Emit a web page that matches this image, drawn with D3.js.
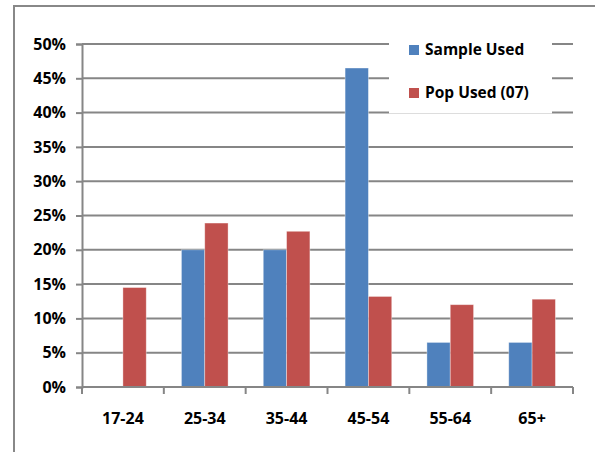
<!DOCTYPE html>
<html lang="en">
<head>
  <meta charset="UTF-8">
  <title>Sample vs population by age</title>
  <style type="text/css">
    body { margin: 0px; background: #fff; }
    text { font-family: "Open Sans", Lato, sans-serif; font-weight: bold; fill: #000; }
    .axis text { font-size: 16px; }
    .axis .domain { stroke: #868686; stroke-width: 2; }
    .axis line { stroke: #868686; stroke-width: 2; }
    .legend text { font-size: 15.5px; }
  </style>
  <script src="https://d3js.org/d3.v7.min.js"></script>
</head>
<body>
  <svg width="595" height="452"></svg>
  <script>

  const ageGroups = ['17-24', '25-34', '35-44', '45-54', '55-64', '65+'];
  const sampleUsed = [0, 0.20, 0.20, 0.465, 0.065, 0.065];
  const popUsed = [0.145, 0.239, 0.227, 0.132, 0.12, 0.128];
  const seriesNames = ['Sample Used', 'Pop Used (07)'];
  const yTicks = [0, 0.05, 0.10, 0.15, 0.20, 0.25, 0.30, 0.35, 0.40, 0.45, 0.50];

  const colors = ['#4F81BD', '#C0504D'];
  const margin = { left: 82, right: 22, top: 44, bottom: 65 };

  const svg = d3.select('svg');
  const width = +svg.attr('width');
  const height = +svg.attr('height');
  const innerWidth = width - margin.left - margin.right;
  const innerHeight = height - margin.top - margin.bottom;

  // outer chart frame (only top and left edges show in the crop)
  svg.append('path')
    .attr('d', `M14,${height} L14,6 L${width},6`)
    .attr('fill', 'none')
    .attr('stroke', '#888')
    .attr('stroke-width', 2);

  const g = svg.append('g')
    .attr('transform', `translate(${margin.left},${margin.top})`);

  const x = d3.scaleBand().domain(ageGroups).range([0, innerWidth]).paddingInner(0.43).paddingOuter(0.215);
  const x1 = d3.scaleBand().domain([0, 1]).range([0, x.bandwidth()]);
  const y = d3.scaleLinear().domain([0, 0.5]).range([innerHeight, 0]);

  // gridlines
  g.append('g').selectAll('line').data(yTicks.slice(1))
    .enter().append('line')
      .attr('x1', 0).attr('x2', innerWidth)
      .attr('y1', d => y(d)).attr('y2', d => y(d))
      .attr('stroke', '#868686').attr('stroke-width', 2);

  const yAxis = g.append('g').attr('class', 'axis')
    .call(d3.axisLeft(y).tickValues(yTicks).tickFormat(d3.format('.0%')).tickSizeOuter(0).tickSize(6).tickPadding(10));

  // category axis with ticks on the boundaries
  const xBoundary = d3.scaleLinear().domain([0, ageGroups.length]).range([0, innerWidth]);
  const xAxisG = g.append('g').attr('class', 'axis')
    .attr('transform', `translate(0,${innerHeight})`);
  xAxisG.append('line').attr('x1', 0).attr('x2', innerWidth);
  xAxisG.selectAll('.bt').data(d3.range(ageGroups.length + 1))
    .enter().append('line')
      .attr('x1', d => xBoundary(d)).attr('x2', d => xBoundary(d))
      .attr('y1', 0).attr('y2', 7);
  xAxisG.selectAll('text').data(ageGroups)
    .enter().append('text')
      .attr('x', d => x(d) + x.bandwidth() / 2)
      .attr('y', 37)
      .attr('text-anchor', 'middle')
      .text(d => d);

  // bars
  const series = [sampleUsed, popUsed];
  series.forEach((vals, si) => {
    g.append('g').selectAll('rect').data(vals)
      .enter().append('rect')
        .attr('x', (d, i) => x(ageGroups[i]) + x1(si))
        .attr('y', d => y(d))
        .attr('width', x1.bandwidth())
        .attr('height', d => innerHeight - y(d))
        .attr('fill', colors[si])
        .attr('stroke', d => d > 0 ? 'rgba(255,255,255,0.45)' : 'none')
        .attr('stroke-width', 0.8);
  });

  yAxis.raise();
  xAxisG.raise();

  // legend
  const legend = svg.append('g').attr('class', 'legend')
    .attr('transform', 'translate(389,36)');
  legend.append('rect')
    .attr('width', 163).attr('height', 77)
    .attr('fill', '#fff');
  legend.append('line')
    .attr('x1', 0).attr('x2', 163).attr('y1', 77.5).attr('y2', 77.5)
    .attr('stroke', '#ddd').attr('stroke-width', 1);
  const items = legend.selectAll('.item').data(seriesNames)
    .enter().append('g')
      .attr('transform', (d, i) => `translate(20,${9 + i * 43})`);
  items.append('rect')
    .attr('width', 10).attr('height', 10)
    .attr('fill', (d, i) => colors[i]);
  items.append('text')
    .attr('x', 16).attr('y', 10)
    .text(d => d);

  </script>
</body>
</html>
